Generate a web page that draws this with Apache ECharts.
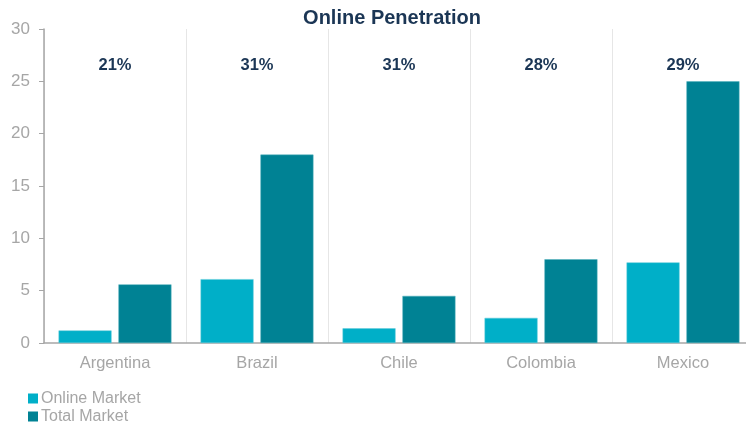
<!DOCTYPE html>
<html>
<head>
<meta charset="utf-8">
<script src="https://cdn.jsdelivr.net/npm/echarts@6/dist/echarts.min.js"></script>
<style>
  html, body { margin: 0; padding: 0; background: #fff; }
  #chart { width: 746px; height: 426px; }
</style>
</head>
<body>
<div id="chart"></div>
<script>
// Market size by country (online vs total) with online share labels
var countries = ['Argentina', 'Brazil', 'Chile', 'Colombia', 'Mexico'];
var onlineMarket = [1.2, 6.1, 1.4, 2.4, 7.7];
var totalMarket = [5.6, 18.0, 4.5, 8.0, 25.0];
var penetration = ['21%', '31%', '31%', '28%', '29%'];
var yTicks = { min: 0, max: 30, interval: 5 };

// Height on the value axis where the share labels sit
var shareLabelLevel = 26.5;

var axisGray = '#a6a6a6';
var textGray = '#a6a6a6';
var navy = '#1b3655';
var font = 'Liberation Sans, Arial, sans-serif';

var chart = echarts.init(document.getElementById('chart'), null, { renderer: 'canvas' });

chart.setOption({
  animation: false,
  textStyle: { fontFamily: font },
  title: {
    text: 'Online Penetration',
    left: 387,
    textAlign: 'center',
    top: 3,
    textStyle: { fontSize: 20, fontWeight: 'bold', color: navy, fontFamily: font }
  },
  legend: {
    orient: 'vertical',
    left: 28,
    top: 390,
    padding: 0,
    itemWidth: 10,
    itemHeight: 10,
    itemGap: 1,
    icon: 'rect',
    itemStyle: { borderWidth: 0 },
    data: ['Online Market', 'Total Market'],
    textStyle: { fontSize: 16, lineHeight: 17, color: textGray, fontFamily: font, padding: [0, 0, 0, -2] }
  },
  // plot runs slightly past the right edge of the canvas
  grid: { left: 44, width: 710, top: 29, bottom: 83, containLabel: false, outerBoundsMode: 'none' },
  xAxis: {
    type: 'category',
    data: countries,
    axisLine: { show: true, lineStyle: { color: axisGray, width: 1.5 } },
    axisTick: { show: false },
    axisLabel: { fontSize: 16.5, color: textGray, margin: 12, fontFamily: font },
    splitLine: { show: true, lineStyle: { color: '#e6e6e6', width: 1 } }
  },
  yAxis: {
    type: 'value',
    min: yTicks.min,
    max: yTicks.max,
    interval: yTicks.interval,
    axisLine: { show: true, lineStyle: { color: axisGray, width: 1.5 } },
    axisTick: { show: true, length: 5, lineStyle: { color: axisGray } },
    axisLabel: { fontSize: 17, color: textGray, margin: 14, fontFamily: font },
    splitLine: { show: false }
  },
  series: [
    {
      name: 'Online Market',
      type: 'bar',
      data: onlineMarket,
      barWidth: 53,
      barGap: '13%',
      itemStyle: { color: '#00afc8', borderColor: '#5fcadb', borderWidth: 0.5 }
    },
    {
      name: 'Total Market',
      type: 'bar',
      data: totalMarket,
      barWidth: 53,
      barGap: '13%',
      itemStyle: { color: '#008294', borderColor: '#4fb0bd', borderWidth: 0.5 }
    },
    {
      name: 'share',
      type: 'scatter',
      data: countries.map(function (c, i) { return [c, shareLabelLevel, penetration[i]]; }),
      symbolSize: 0,
      silent: true,
      itemStyle: { opacity: 1 },
      label: {
        show: true,
        position: 'inside',
        formatter: function (p) { return p.data[2]; },
        fontSize: 16.5,
        fontWeight: 'bold',
        color: navy,
        opacity: 1,
        fontFamily: font
      }
    }
  ]
});
</script>
</body>
</html>
